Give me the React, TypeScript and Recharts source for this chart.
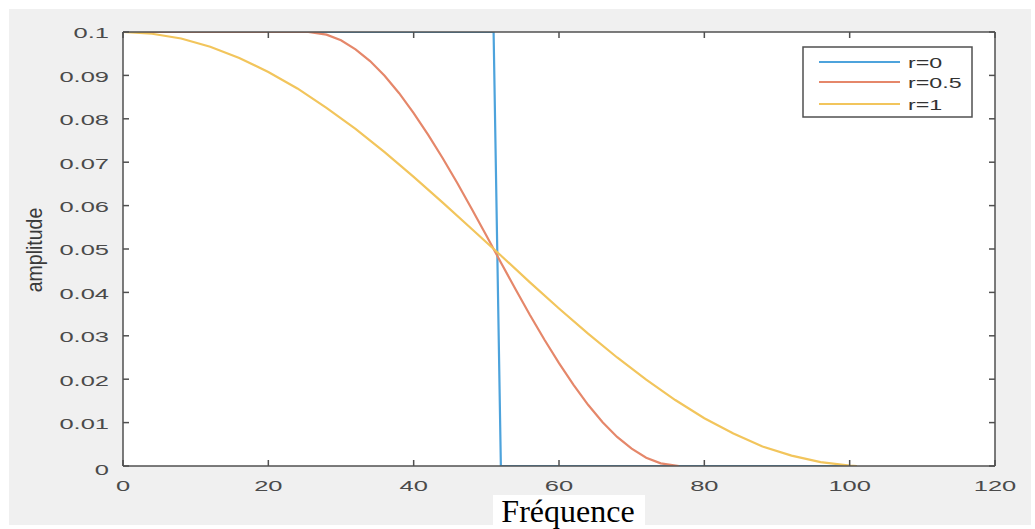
import React from 'react';
import { LineChart, Line, XAxis, YAxis, CartesianGrid } from 'recharts';

const xTicks = [0, 20, 40, 60, 80, 100, 120];
const xTickLabels = ['0', '20', '40', '60', '80', '100', '120'];
const yTicks = [0, 0.01, 0.02, 0.03, 0.04, 0.05, 0.06, 0.07, 0.08, 0.09, 0.1];
const yTickLabels = ['0', '0.01', '0.02', '0.03', '0.04', '0.05', '0.06', '0.07', '0.08', '0.09', '0.1'];

const seriesNames = ['r=0', 'r=0.5', 'r=1'];
const seriesColors = ['#4da3dc', '#e5876a', '#f2c55c'];

const blueFreq = [0, 51, 52, 100];
const blueAmp = [0.1, 0.1, 0, 0];

const redFreq = [0, 25.5, 28, 30, 32, 34, 36, 38, 40, 42, 44, 46, 48, 50, 52, 54, 56, 58, 60, 62, 64, 66, 68, 70, 72, 74, 76.5];
const redAmp = [0.1, 0.1, 0.0994, 0.0981, 0.096, 0.0933, 0.0899, 0.0859, 0.0813, 0.0763, 0.0709, 0.0652, 0.0592, 0.0531, 0.0469, 0.0408, 0.0348, 0.0291, 0.0237, 0.0187, 0.0141, 0.0101, 0.0067, 0.004, 0.0019, 0.0006, 0];

const yellowFreq = [0, 4, 8, 12, 16, 20, 24, 28, 32, 36, 40, 44, 48, 52, 56, 60, 64, 68, 72, 76, 80, 84, 88, 92, 96, 100, 101];
const yellowAmp = [0.1, 0.0996, 0.0985, 0.0966, 0.094, 0.0908, 0.087, 0.0825, 0.0777, 0.0723, 0.0666, 0.0607, 0.0546, 0.0485, 0.0423, 0.0363, 0.0305, 0.025, 0.0199, 0.0152, 0.011, 0.0075, 0.0045, 0.0024, 0.0009, 0.0001, 0];

const zip = (f: number[], a: number[]) => f.map((x, i) => ({ f: x, a: a[i] }));
const seriesData = [zip(blueFreq, blueAmp), zip(redFreq, redAmp), zip(yellowFreq, yellowAmp)];

const AXIS = '#505050';
const TICK_TEXT = '#4a4a4a';
const SANS = '"Liberation Sans", Arial, sans-serif';

const BottomTick = (props: any) => {
  const { x, y, payload } = props;
  const i = xTicks.indexOf(payload.value);
  const label = i >= 0 ? xTickLabels[i] : String(payload.value);
  return (
    <g>
      <line x1={x} y1={y} x2={x} y2={y - 6} stroke={AXIS} strokeWidth={1.5} />
      <text
        transform={`translate(${x},${y + 20}) scale(1.7,1)`}
        textAnchor="middle"
        dominantBaseline="central"
        fontSize={15}
        fill={TICK_TEXT}
        fontFamily={SANS}
      >
        {label}
      </text>
    </g>
  );
};

const TopTick = (props: any) => {
  const { x, y } = props;
  return <line x1={x} y1={y} x2={x} y2={y + 6} stroke={AXIS} strokeWidth={1.5} />;
};

const LeftTick = (props: any) => {
  const { x, y, payload } = props;
  const i = yTicks.indexOf(payload.value);
  const label = i >= 0 ? yTickLabels[i] : String(payload.value);
  const dy = payload.value === 0 ? 4 : 1;
  return (
    <g>
      <line x1={x} y1={y} x2={x + 6} y2={y} stroke={AXIS} strokeWidth={1.5} />
      <text
        transform={`translate(${x - 14},${y + dy}) scale(1.7,1)`}
        textAnchor="end"
        dominantBaseline="central"
        fontSize={15}
        fill={TICK_TEXT}
        fontFamily={SANS}
      >
        {label}
      </text>
    </g>
  );
};

const RightTick = (props: any) => {
  const { x, y } = props;
  return <line x1={x} y1={y} x2={x - 6} y2={y} stroke={AXIS} strokeWidth={1.5} />;
};

const YTitle = (props: any) => {
  const vb = props.viewBox || { x: 0, y: 32, width: 123, height: 434 };
  const cx = vb.x + 34;
  const cy = vb.y + vb.height / 2 + 1;
  return (
    <text
      transform={`translate(${cx},${cy}) scale(1.5,1.3) rotate(-90)`}
      textAnchor="middle"
      dominantBaseline="central"
      fontSize={15}
      fill="#3a3a3a"
      fontFamily={SANS}
    >
      amplitude
    </text>
  );
};

const XTitle = (props: any) => {
  const vb = props.viewBox || { x: 123, y: 466, width: 872, height: 30 };
  const cx = vb.x + vb.width / 2 + 9;
  return (
    <g>
      <rect x={cx - 75} y={vb.y + 29} width={152} height={40} fill="#ffffff" />
      <text
        x={cx}
        y={vb.y + 56}
        textAnchor="middle"
        fontSize={32}
        fill="#000000"
        fontFamily='"Liberation Serif", "Times New Roman", serif'
      >
        Fréquence
      </text>
    </g>
  );
};

const LegendBox = () => (
  <svg width={172} height={73} style={{ position: 'absolute', left: 802, top: 46 }}>
    <rect x={1} y={1} width={169} height={70} fill="#ffffff" stroke={AXIS} strokeWidth={1.5} />
    {seriesNames.map((name, i) => {
      const rowY = [16, 36, 58][i];
      return (
        <g key={name}>
          <line x1={17} y1={rowY} x2={98} y2={rowY} stroke={seriesColors[i]} strokeWidth={2} />
          <text
            transform={`translate(106,${rowY + 1}) scale(1.55,1)`}
            dominantBaseline="central"
            fontSize={15}
            fill="#333333"
            fontFamily={SANS}
          >
            {name}
          </text>
        </g>
      );
    })}
  </svg>
);

export default function App() {
  return (
    <div style={{ position: 'absolute', left: 0, top: 0, width: 1035, height: 529, background: '#ffffff', overflow: 'hidden' }}>
      <div style={{ position: 'absolute', left: 9, top: 9, width: 1022, height: 516, background: '#f0f0f0' }} />
      <div style={{ position: 'absolute', left: 0, top: 0 }}>
        <LineChart width={1035} height={529} margin={{ top: 31, right: 39, bottom: 33, left: 0 }}>
          <CartesianGrid horizontal={false} vertical={false} fill="#ffffff" stroke="none" />
          <XAxis
            dataKey="f"
            type="number"
            domain={[0, 120]}
            ticks={xTicks}
            allowDataOverflow
            height={30}
            tickSize={0}
            tickMargin={0}
            tickLine={false}
            tick={<BottomTick />}
            axisLine={{ stroke: AXIS, strokeWidth: 1.5 }}
            label={<XTitle />}
          />
          <XAxis
            xAxisId="top"
            dataKey="f"
            orientation="top"
            type="number"
            domain={[0, 120]}
            ticks={xTicks}
            allowDataOverflow
            height={1}
            tickSize={0}
            tickMargin={0}
            tickLine={false}
            tick={<TopTick />}
            axisLine={{ stroke: AXIS, strokeWidth: 1.5 }}
          />
          <YAxis
            type="number"
            domain={[0, 0.1]}
            ticks={yTicks}
            allowDataOverflow
            width={123}
            tickSize={0}
            tickMargin={0}
            tickLine={false}
            tick={<LeftTick />}
            axisLine={{ stroke: AXIS, strokeWidth: 1.5 }}
            label={<YTitle />}
          />
          <YAxis
            yAxisId="right"
            orientation="right"
            type="number"
            domain={[0, 0.1]}
            ticks={yTicks}
            allowDataOverflow
            width={1}
            tickSize={0}
            tickMargin={0}
            tickLine={false}
            tick={<RightTick />}
            axisLine={{ stroke: AXIS, strokeWidth: 1.5 }}
          />
          <Line
            xAxisId="top"
            yAxisId="right"
            data={seriesData[0]}
            dataKey="a"
            stroke="none"
            strokeWidth={0}
            dot={false}
            activeDot={false}
            legendType="none"
            isAnimationActive={false}
          />
          {seriesData.map((d, i) => (
            <Line
              key={seriesNames[i]}
              data={d}
              dataKey="a"
              name={seriesNames[i]}
              type="linear"
              stroke={seriesColors[i]}
              strokeWidth={2.2}
              dot={false}
              activeDot={false}
              isAnimationActive={false}
            />
          ))}
        </LineChart>
      </div>
      <LegendBox />
    </div>
  );
}
